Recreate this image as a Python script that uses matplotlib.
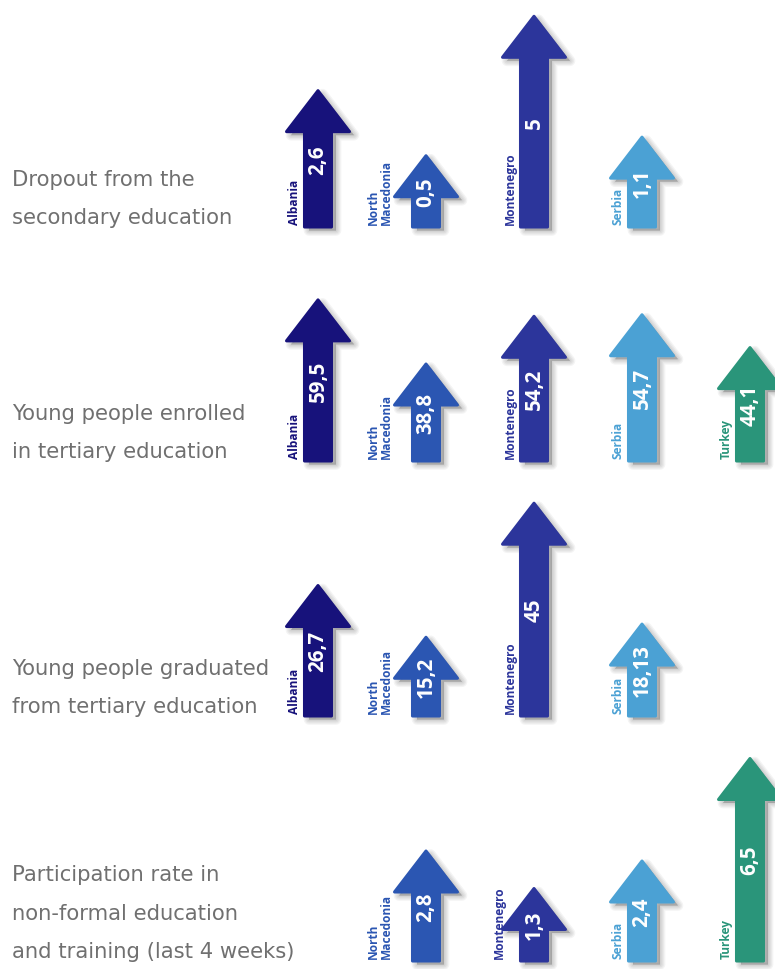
import matplotlib
matplotlib.use("Agg")
import matplotlib.pyplot as plt
import matplotlib.transforms as mtransforms
from matplotlib.patches import Polygon

# ---- data -------------------------------------------------------------
indicators = [
    "Dropout from the\nsecondary education",
    "Young people enrolled\nin tertiary education",
    "Young people graduated\nfrom tertiary education",
    "Participation rate in\nnon-formal education\nand training (last 4 weeks)",
]
countries = ["Albania", "North\nMacedonia", "Montenegro", "Serbia", "Turkey"]

dropout = [2.6, 0.5, 5.0, 1.1, None]
enrolled = [59.5, 38.8, 54.2, 54.7, 44.1]
graduated = [26.7, 15.2, 45.0, 18.13, None]
nonformal = [None, 2.8, 1.3, 2.4, 6.5]

rows = [dropout, enrolled, graduated, nonformal]

# ---- style / layout ---------------------------------------------------
country_colors = ["#17127b", "#2b56b2", "#2c359b", "#4ba1d4", "#2a957a"]
text_grey = "#707070"
font = ["Open Sans", "DejaVu Sans"]
desc_font = ["DejaVu Sans"]

W, H, DPI = 775, 970, 100
x_left_px = 264          # left edge of the arrow area
col_step_px = 108        # distance between country columns
row_base_px = [228, 462, 717, 962]   # baseline of each row, from top
row_ylim = [(-1.8, 5.3), (7.5, 78.5), (-2.3, 46.6), (-1.6, 7.2)]
axes_h_px = 220
shaft_w, head_w, head_len = 27, 63, 41


def fmt(v):
    return f"{v:g}".replace(".", ",")


fig = plt.figure(figsize=(W / DPI, H / DPI), dpi=DPI)
fig.patch.set_facecolor("white")
renderer = fig.canvas.get_renderer()

for r, values in enumerate(rows):
    base = row_base_px[r]
    ax = fig.add_axes([x_left_px / W, (H - base) / H,
                       (W - x_left_px) / W, axes_h_px / H])
    xmax = (W - x_left_px) / col_step_px - 0.5
    ax.set_xlim(-0.5, xmax)
    ax.set_ylim(*row_ylim[r])
    ax.axis("off")

    y0, y1 = row_ylim[r]
    dx = (xmax + 0.5) / (W - x_left_px)   # data units per pixel (x)
    dy = (y1 - y0) / axes_h_px            # data units per pixel (y)

    for i, v in enumerate(values):
        if v is None:
            continue
        sw = shaft_w / 2 * dx
        hw = head_w / 2 * dx
        hl = head_len * dy
        pts = [(i - sw, y0), (i + sw, y0), (i + sw, v - hl), (i + hw, v - hl),
               (i, v), (i - hw, v - hl), (i - sw, v - hl)]

        # soft drop shadow, cast down and to the right
        sh_tr = mtransforms.offset_copy(ax.transData, fig=fig, x=4.5, y=-3.5,
                                        units="dots")
        for k in range(5):
            ax.add_patch(Polygon(pts, closed=True, transform=sh_tr,
                                 fc="black", ec="black", lw=0.5 + 1.8 * k,
                                 alpha=0.045, joinstyle="round",
                                 clip_on=False, zorder=1))
        ax.add_patch(Polygon(pts, closed=True, fc=country_colors[i],
                             ec=country_colors[i], lw=2.2, joinstyle="round",
                             clip_on=False, zorder=3))

        # value inside the arrow
        ax.text(i, (y0 + v) / 2, fmt(v), rotation=90, rotation_mode="anchor",
                ha="center", va="center", color="white", fontsize=14.8,
                fontweight="bold", family=font, zorder=4, clip_on=False)

        # country name beside the shaft; moved clear of the head if too long
        two_lines = "\n" in countries[i]
        off = 46 if two_lines else 24
        lab = ax.text(i - off * dx, y0 + 3 * dy, countries[i], rotation=90,
                      rotation_mode="anchor", ha="left", va="center",
                      color=country_colors[i], fontsize=8.6,
                      fontweight="bold", family=font, linespacing=1.0,
                      zorder=4, clip_on=False)
        top_px = lab.get_window_extent(renderer).y1
        head_px = ax.transData.transform((i, v - hl))[1]
        if top_px > head_px and off < head_w / 2 + 4:
            lab.set_x(i - (head_w / 2 + 3) * dx)

    # indicator description on the left
    fig.text(12 / W, (H - base + 4) / H, indicators[r], ha="left",
             va="baseline", fontsize=15.2, color=text_grey, family=desc_font,
             linespacing=2.15)

fig.savefig("out.png", dpi=DPI, facecolor="white")
